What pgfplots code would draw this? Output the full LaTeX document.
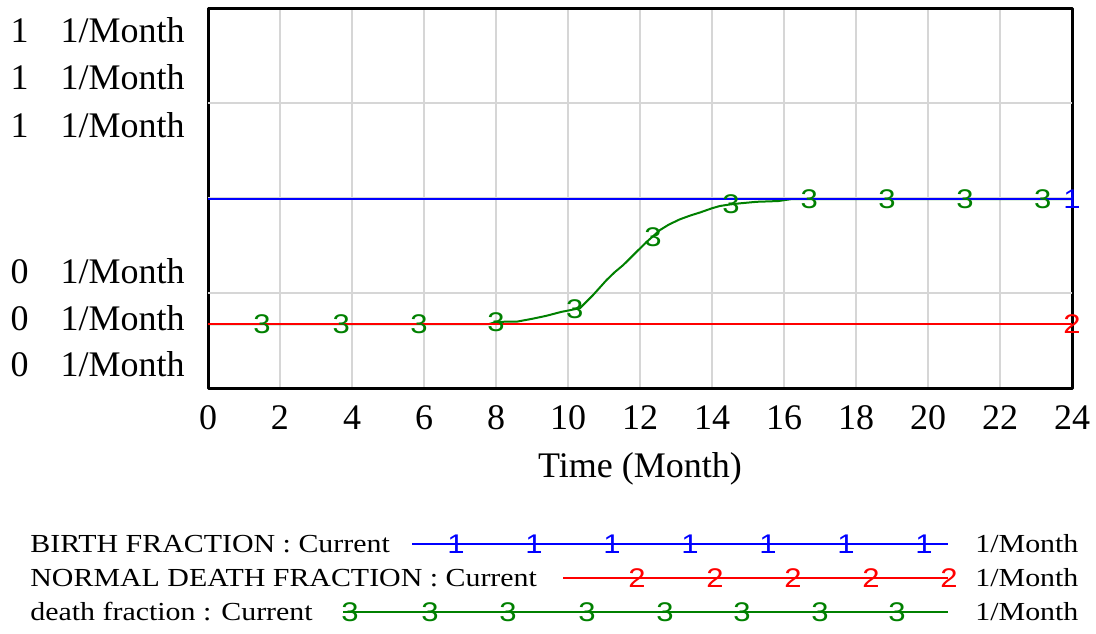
\documentclass[border=0pt]{standalone}
\usepackage{fontspec}
\setmainfont{Liberation Serif}
\newfontfamily\arialf{Liberation Sans}
\usepackage{graphicx}
\usepackage{pgfplots}
\pgfplotsset{compat=1.18}
\definecolor{vblue}{RGB}{0,0,255}
\definecolor{vred}{RGB}{255,0,0}
\definecolor{vgreen}{RGB}{0,128,0}
\definecolor{vgrid}{RGB}{214,214,214}
\newcommand{\ylab}[1]{\makebox[25pt][l]{#1}1/Month}
\newcommand{\mk}[1]{\raisebox{-1.5pt}{\scalebox{1.15}[1]{\arialf\fontsize{13.5pt}{14pt}\selectfont #1}}}
\newcommand{\legtxt}[1]{\scalebox{1.15}[1]{\fontsize{13pt}{15pt}\selectfont #1}}
\begin{document}
\begin{tikzpicture}
\begin{axis}[
  at={(0,0)}, anchor=origin,
  scale only axis, width=432pt, height=190pt,
  xmin=0, xmax=24, ymin=0, ymax=1,
  xtick={0,2,...,24},
  major tick length=0pt,
  xmajorgrids, grid style={vgrid, line width=0.6pt},
  ytick={0.063,0.184,0.308,0.692,0.818,0.942},
  yticklabels={\ylab{0},\ylab{0},\ylab{0},\ylab{1},\ylab{1},\ylab{1}},
  extra y ticks={0.25,0.5,0.75},
  extra y tick labels={},
  extra y tick style={ymajorgrids=true},
  axis line style={line width=1.5pt, line join=round},
  /pgf/number format/assume math mode=true,
  tick label style={font=\fontsize{18pt}{20pt}\selectfont, inner sep=0pt},
  xticklabel style={yshift=-8.5pt, anchor=north},
  yticklabel style={anchor=east, xshift=-11.5pt},
  xlabel={Time (Month)},
  xlabel style={font=\fontsize{18pt}{20pt}\selectfont, at={(axis description cs:0.5,0)}, anchor=center, yshift=-40.5pt},
  clip=false,
]
% death fraction (3)
\addplot[vgreen, line width=1pt] coordinates {
(0,0.168) (7.8,0.168) (8.0,0.174) (8.6,0.175) (9.0,0.182) (9.4,0.190) (9.8,0.200) (10.33,0.210)
(10.7,0.245) (11.07,0.284) (11.3,0.305) (11.54,0.324) (11.9,0.358) (12.19,0.385) (12.56,0.416) (12.8,0.430) (13.11,0.444)
(13.4,0.454) (13.67,0.462) (14.0,0.473) (14.22,0.479) (14.5,0.483) (14.78,0.486) (15.24,0.490) (15.84,0.492) (16.2,0.497) (24,0.497)};
% NORMAL DEATH FRACTION (2)
\addplot[vred, line width=1pt] coordinates {(0,0.168) (24,0.168)};
% BIRTH FRACTION (1)
\addplot[vblue, line width=1pt] coordinates {(0,0.497) (24,0.497)};
% number marks
\addplot[only marks, mark=text, text mark={\mk{3}}, text mark as node=true, vgreen] coordinates {
(1.5,0.168) (3.7,0.168) (5.86,0.168) (8.0,0.174) (10.19,0.208) (12.36,0.398) (14.53,0.483)
(16.7,0.497) (18.86,0.497) (21.03,0.497) (23.19,0.497)};
\addplot[only marks, mark=text, text mark={\mk{2}}, text mark as node=true, vred] coordinates {(24,0.168)};
\addplot[only marks, mark=text, text mark={\mk{1}}, text mark as node=true, vblue] coordinates {(24,0.497)};
\end{axis}
% legend
\begin{scope}[every node/.style={inner sep=0pt}]
\node[anchor=west] at (-89pt,-78pt) {\legtxt{BIRTH FRACTION : Current}};
\node[anchor=west] at (-89pt,-95pt) {\legtxt{NORMAL DEATH FRACTION : Current}};
\node[anchor=west] at (-89pt,-112pt) {\legtxt{death fraction : Current}};
\node[anchor=west] at (383.5pt,-78pt) {\legtxt{1/Month}};
\node[anchor=west] at (383.5pt,-95pt) {\legtxt{1/Month}};
\node[anchor=west] at (383.5pt,-112pt) {\legtxt{1/Month}};
\draw[vblue, line width=1pt] (102pt,-78pt) -- (370pt,-78pt);
\draw[vred, line width=1pt] (177.5pt,-95pt) -- (370pt,-95pt);
\draw[vgreen, line width=1pt] (67.5pt,-112pt) -- (370pt,-112pt);
\foreach \x in {124,163,202,241,280,319,358} \node[text=vblue] at (\x pt,-78pt) {\mk{1}};
\foreach \x in {214.5,253.5,292.5,331.5,370.5} \node[text=vred] at (\x pt,-95pt) {\mk{2}};
\foreach \x in {71,111,150,189.5,228.5,267,306,344.5} \node[text=vgreen] at (\x pt,-112pt) {\mk{3}};
\end{scope}
\pgfresetboundingbox
\path[use as bounding box] (-104pt,-122.5pt) rectangle (444pt,194pt);
\end{tikzpicture}
\end{document}
